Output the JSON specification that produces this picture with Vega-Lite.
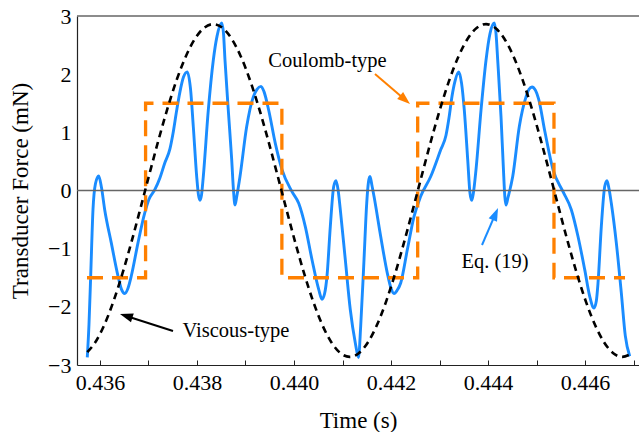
{
  "$schema": "https://vega.github.io/schema/vega-lite/v6.json",
  "width": 562,
  "height": 349,
  "autosize": {"type": "none"},
  "padding": {"left": 77, "top": 16, "right": 0, "bottom": 67},
  "config": {
    "view": {"stroke": null},
    "font": "Liberation Serif",
    "axis": {"labelFont": "Liberation Serif", "titleFont": "Liberation Serif", "grid": false}
  },
  "layer": [
    {
      "data": {"values": [
        {"t": 0.4357381, "v": -2.87}, {"t": 0.4357732, "v": -2.3}, {"t": 0.4358082, "v": -1.47},
        {"t": 0.4358557, "v": -0.33}, {"t": 0.4359072, "v": 0.12}, {"t": 0.4359732, "v": 0.25},
        {"t": 0.4360309, "v": 0.05}, {"t": 0.4360969, "v": -0.33}, {"t": 0.436233, "v": -0.9},
        {"t": 0.4363711, "v": -1.47}, {"t": 0.4364433, "v": -1.7}, {"t": 0.4365093, "v": -1.77},
        {"t": 0.4365773, "v": -1.68}, {"t": 0.4366454, "v": -1.47}, {"t": 0.4367835, "v": -0.9},
        {"t": 0.4369216, "v": -0.39}, {"t": 0.4370103, "v": -0.15}, {"t": 0.4371278, "v": 0.01},
        {"t": 0.4372371, "v": 0.22}, {"t": 0.437334, "v": 0.47}, {"t": 0.4374433, "v": 0.72},
        {"t": 0.4375052, "v": 0.98}, {"t": 0.4375814, "v": 1.38}, {"t": 0.4376495, "v": 1.7},
        {"t": 0.4377216, "v": 1.95}, {"t": 0.43780, "v": 2.04}, {"t": 0.437866, "v": 1.75},
        {"t": 0.4379237, "v": 1.1}, {"t": 0.4379938, "v": 0.24}, {"t": 0.4380309, "v": -0.08},
        {"t": 0.4380619, "v": -0.17}, {"t": 0.4380928, "v": -0.08}, {"t": 0.4381299, "v": 0.24},
        {"t": 0.438233, "v": 1.38}, {"t": 0.4383361, "v": 2.24}, {"t": 0.4384124, "v": 2.65},
        {"t": 0.4385093, "v": 2.88}, {"t": 0.4385464, "v": 2.7}, {"t": 0.4385773, "v": 2.24},
        {"t": 0.4386454, "v": 1.38}, {"t": 0.4387155, "v": 0.53}, {"t": 0.4387526, "v": 0.0},
        {"t": 0.4387835, "v": -0.25}, {"t": 0.4388206, "v": -0.1}, {"t": 0.4388866, "v": 0.24},
        {"t": 0.4390247, "v": 1.1}, {"t": 0.4391608, "v": 1.61}, {"t": 0.4392371, "v": 1.74},
        {"t": 0.4393196, "v": 1.79}, {"t": 0.4393814, "v": 1.7}, {"t": 0.4394784, "v": 1.38},
        {"t": 0.4396144, "v": 0.81}, {"t": 0.4397526, "v": 0.36}, {"t": 0.4399588, "v": -0.02},
        {"t": 0.440097, "v": -0.22}, {"t": 0.440233, "v": -0.62}, {"t": 0.4403711, "v": -1.19},
        {"t": 0.4405093, "v": -1.7}, {"t": 0.4405773, "v": -1.87}, {"t": 0.4406289, "v": -1.78},
        {"t": 0.4406804, "v": -1.47}, {"t": 0.4407485, "v": -0.62}, {"t": 0.4408186, "v": 0.07},
        {"t": 0.440866, "v": 0.17}, {"t": 0.4409072, "v": 0.02}, {"t": 0.4409546, "v": -0.33},
        {"t": 0.4410577, "v": -1.19}, {"t": 0.4411608, "v": -2.05}, {"t": 0.4412639, "v": -2.62},
        {"t": 0.4413299, "v": -2.87}, {"t": 0.4413753, "v": -2.33}, {"t": 0.4414433, "v": -1.19},
        {"t": 0.441499, "v": -0.22}, {"t": 0.4415361, "v": 0.15}, {"t": 0.441567, "v": 0.24},
        {"t": 0.4416041, "v": 0.1}, {"t": 0.4416495, "v": -0.1}, {"t": 0.4417876, "v": -0.79},
        {"t": 0.4419237, "v": -1.42}, {"t": 0.4420, "v": -1.68}, {"t": 0.4420619, "v": -1.77},
        {"t": 0.4421237, "v": -1.72}, {"t": 0.4422, "v": -1.59}, {"t": 0.4423361, "v": -1.02},
        {"t": 0.4424742, "v": -0.45}, {"t": 0.4426124, "v": -0.1}, {"t": 0.4428186, "v": 0.24},
        {"t": 0.4430247, "v": 0.7}, {"t": 0.443134, "v": 0.95}, {"t": 0.4431959, "v": 1.25},
        {"t": 0.4432577, "v": 1.62}, {"t": 0.4433196, "v": 1.88}, {"t": 0.4433959, "v": 2.04},
        {"t": 0.4434536, "v": 1.85}, {"t": 0.4435113, "v": 1.38}, {"t": 0.4435814, "v": 0.53},
        {"t": 0.4436289, "v": -0.05}, {"t": 0.4436639, "v": -0.17}, {"t": 0.4436969, "v": -0.05},
        {"t": 0.4437526, "v": 0.36}, {"t": 0.4438557, "v": 1.38}, {"t": 0.4439588, "v": 2.24},
        {"t": 0.4440412, "v": 2.7}, {"t": 0.4441299, "v": 2.88}, {"t": 0.4441649, "v": 2.7},
        {"t": 0.4442, "v": 2.24}, {"t": 0.444268, "v": 1.27}, {"t": 0.4443155, "v": 0.41},
        {"t": 0.4443464, "v": -0.1}, {"t": 0.4443711, "v": -0.25}, {"t": 0.4444124, "v": -0.12},
        {"t": 0.4445093, "v": 0.24}, {"t": 0.4446454, "v": 1.1}, {"t": 0.4447835, "v": 1.61},
        {"t": 0.4448454, "v": 1.74}, {"t": 0.4449072, "v": 1.78}, {"t": 0.4449794, "v": 1.72},
        {"t": 0.4450412, "v": 1.58}, {"t": 0.4451753, "v": 1.0}, {"t": 0.4453402, "v": 0.36},
        {"t": 0.4455464, "v": -0.02}, {"t": 0.4457175, "v": -0.33}, {"t": 0.4458557, "v": -0.79},
        {"t": 0.4459938, "v": -1.36}, {"t": 0.4460969, "v": -1.82}, {"t": 0.4461856, "v": -2.02},
        {"t": 0.446233, "v": -1.9}, {"t": 0.446268, "v": -1.59}, {"t": 0.4463361, "v": -0.62},
        {"t": 0.4464062, "v": 0.07}, {"t": 0.4464536, "v": 0.17}, {"t": 0.4464948, "v": 0.03},
        {"t": 0.4465423, "v": -0.22}, {"t": 0.4466454, "v": -0.9}, {"t": 0.4467485, "v": -1.76},
        {"t": 0.4468309, "v": -2.5}, {"t": 0.4469216, "v": -2.85}
      ]},
      "mark": {"type": "line", "color": "#1a8cff", "strokeWidth": 2.9, "interpolate": "monotone"},
      "encoding": {
        "x": {
          "field": "t", "type": "quantitative",
          "scale": {"domain": [0.435526, 0.447113], "nice": false, "zero": false},
          "axis": {
            "orient": "bottom",
            "title": "Time (s)", "titleFontSize": 23, "titleFontWeight": "normal", "titleColor": "#000",
            "titleY": 44,
            "values": [0.436, 0.4365, 0.437, 0.4375, 0.438, 0.4385, 0.439, 0.4395, 0.44, 0.4405, 0.441, 0.4415, 0.442, 0.4425, 0.443, 0.4435, 0.444, 0.4445, 0.445, 0.4455, 0.446, 0.4465, 0.447],
            "labelExpr": "abs(datum.value * 500 - round(datum.value * 500)) < 0.001 ? format(datum.value, '.3f') : ''",
            "labelFontSize": 22, "labelColor": "#000", "labelPadding": 12, "labelFlush": false,
            "ticks": true, "tickSize": -5, "tickColor": "#222", "tickWidth": 1,
            "domainColor": "#222", "domainWidth": 1.2
          }
        },
        "y": {
          "field": "v", "type": "quantitative",
          "scale": {"domain": [-3, 3], "nice": false},
          "axis": {
            "orient": "left",
            "title": "Transducer Force (mN)", "titleFontSize": 23, "titleFontWeight": "normal", "titleColor": "#000",
            "titleX": -45, "titleY": 174.5,
            "values": [-3, -2, -1, 0, 1, 2, 3],
            "labelExpr": "datum.value < 0 ? '\u2212' + format(abs(datum.value), 'd') : format(datum.value, 'd')",
            "labelFontSize": 22, "labelColor": "#000", "labelPadding": 6,
            "ticks": false, "domainColor": "#222", "domainWidth": 1.2
          }
        }
      }
    },
    {
      "data": {"values": [{"v": 0}, {"v": 3}]},
      "mark": {"type": "rule", "color": "#666666", "strokeWidth": 1.3},
      "encoding": {
        "y": {"field": "v", "type": "quantitative"}
      }
    },
    {
      "data": {"values": [
        {"i": 0, "t": 0.435732, "v": -1.5},
        {"i": 1, "t": 0.43694, "v": -1.5},
        {"i": 2, "t": 0.43694, "v": 1.5},
        {"i": 3, "t": 0.43975, "v": 1.5},
        {"i": 4, "t": 0.43975, "v": -1.5},
        {"i": 5, "t": 0.44255, "v": -1.5},
        {"i": 6, "t": 0.44255, "v": 1.5},
        {"i": 7, "t": 0.44536, "v": 1.5},
        {"i": 8, "t": 0.44536, "v": -1.5},
        {"i": 9, "t": 0.446825, "v": -1.5}
      ]},
      "mark": {"type": "line", "color": "#ff8000", "strokeWidth": 3.3, "strokeDash": [16, 9], "interpolate": "linear"},
      "encoding": {
        "x": {"field": "t", "type": "quantitative"},
        "y": {"field": "v", "type": "quantitative"},
        "order": {"field": "i", "type": "quantitative"}
      }
    },
    {
      "data": {"values": [
        {"t": 0.435738, "v": -2.78},
        {"t": 0.4358996, "v": -2.6128}, {"t": 0.436087, "v": -2.3138}, {"t": 0.4362744, "v": -1.9137},
        {"t": 0.4364619, "v": -1.43}, {"t": 0.4366493, "v": -0.8838}, {"t": 0.4368367, "v": -0.299},
        {"t": 0.4370242, "v": 0.299}, {"t": 0.4372116, "v": 0.8838}, {"t": 0.437399, "v": 1.43},
        {"t": 0.4375864, "v": 1.9137}, {"t": 0.4377738, "v": 2.3138}, {"t": 0.4379613, "v": 2.6128},
        {"t": 0.4381487, "v": 2.7975}, {"t": 0.4383361, "v": 2.86}, {"t": 0.4385235, "v": 2.7975},
        {"t": 0.4387109, "v": 2.6128}, {"t": 0.4388984, "v": 2.3138}, {"t": 0.4390858, "v": 1.9137},
        {"t": 0.4392732, "v": 1.43}, {"t": 0.4394606, "v": 0.8838}, {"t": 0.439648, "v": 0.299},
        {"t": 0.4398355, "v": -0.299}, {"t": 0.4400229, "v": -0.8838}, {"t": 0.4402103, "v": -1.43},
        {"t": 0.4403977, "v": -1.9137}, {"t": 0.4405851, "v": -2.3138}, {"t": 0.4407726, "v": -2.6128},
        {"t": 0.44096, "v": -2.7975}, {"t": 0.4411474, "v": -2.86}, {"t": 0.4413348, "v": -2.7975},
        {"t": 0.4415222, "v": -2.6128}, {"t": 0.4417097, "v": -2.3138}, {"t": 0.4418971, "v": -1.9137},
        {"t": 0.4420845, "v": -1.43}, {"t": 0.4422719, "v": -0.8838}, {"t": 0.4424593, "v": -0.299},
        {"t": 0.4426468, "v": 0.299}, {"t": 0.4428342, "v": 0.8838}, {"t": 0.4430216, "v": 1.43},
        {"t": 0.443209, "v": 1.9137}, {"t": 0.4433964, "v": 2.3138}, {"t": 0.4435839, "v": 2.6128},
        {"t": 0.4437713, "v": 2.7975}, {"t": 0.4439587, "v": 2.86}, {"t": 0.4441461, "v": 2.7975},
        {"t": 0.4443335, "v": 2.6128}, {"t": 0.444521, "v": 2.3138}, {"t": 0.4447084, "v": 1.9137},
        {"t": 0.4448958, "v": 1.43}, {"t": 0.4450832, "v": 0.8838}, {"t": 0.4452706, "v": 0.299},
        {"t": 0.4454581, "v": -0.299}, {"t": 0.4456455, "v": -0.8838}, {"t": 0.4458329, "v": -1.43},
        {"t": 0.4460203, "v": -1.9137}, {"t": 0.4462077, "v": -2.3138}, {"t": 0.4463952, "v": -2.6128},
        {"t": 0.4465826, "v": -2.7975}, {"t": 0.44677, "v": -2.86}, {"t": 0.446922, "v": -2.82}
      ]},
      "mark": {"type": "line", "color": "#000000", "strokeWidth": 2.6, "strokeDash": [7, 5], "interpolate": "monotone"},
      "encoding": {
        "x": {"field": "t", "type": "quantitative"},
        "y": {"field": "v", "type": "quantitative"}
      }
    },
    {
      "data": {"values": [
        {"series": "coulomb", "t": 0.44167, "v": 2.003, "t2": 0.4422901, "v2": 1.5597},
        {"series": "eq19", "t": 0.4438763, "v": -0.937, "t2": 0.444153, "v2": -0.4035},
        {"series": "viscous", "t": 0.4375052, "v": -2.415, "t2": 0.43654, "v2": -2.157}
      ]},
      "mark": {"type": "rule", "strokeWidth": 2},
      "encoding": {
        "x": {"field": "t", "type": "quantitative"},
        "y": {"field": "v", "type": "quantitative"},
        "x2": {"field": "t2"},
        "y2": {"field": "v2"},
        "color": {"field": "series", "type": "nominal", "scale": {"domain": ["coulomb", "eq19", "viscous"], "range": ["#ff8000", "#1a8cff", "#000000"]}, "legend": null}
      }
    },
    {
      "data": {"values": [{"t": 0.4422901, "v": 1.5597}]},
      "mark": {"type": "point", "shape": "M0,-1L0.7,1L-0.7,1Z", "filled": true, "color": "#ff8000", "size": 169, "angle": 130.6, "opacity": 1},
      "encoding": {
        "x": {"field": "t", "type": "quantitative"},
        "y": {"field": "v", "type": "quantitative"}
      }
    },
    {
      "data": {"values": [{"t": 0.444153, "v": -0.4035}]},
      "mark": {"type": "point", "shape": "M0,-1L0.7,1L-0.7,1Z", "filled": true, "color": "#1a8cff", "size": 169, "angle": 23.4, "opacity": 1},
      "encoding": {
        "x": {"field": "t", "type": "quantitative"},
        "y": {"field": "v", "type": "quantitative"}
      }
    },
    {
      "data": {"values": [{"t": 0.43654, "v": -2.157}]},
      "mark": {"type": "point", "shape": "M0,-1L0.7,1L-0.7,1Z", "filled": true, "color": "#000000", "size": 169, "angle": 287.8, "opacity": 1},
      "encoding": {
        "x": {"field": "t", "type": "quantitative"},
        "y": {"field": "v", "type": "quantitative"}
      }
    },
    {
      "data": {"values": [
        {"t": 0.4406907, "v": 2.226, "label": "Coulomb-type"},
        {"t": 0.4441443, "v": -1.224, "label": "Eq. (19)"},
        {"t": 0.4388041, "v": -2.41, "label": "Viscous-type"}
      ]},
      "mark": {"type": "text", "font": "Liberation Serif", "fontSize": 20.5, "color": "#000000", "align": "center", "baseline": "middle"},
      "encoding": {
        "x": {"field": "t", "type": "quantitative"},
        "y": {"field": "v", "type": "quantitative"},
        "text": {"field": "label", "type": "nominal"}
      }
    }
  ]
}
